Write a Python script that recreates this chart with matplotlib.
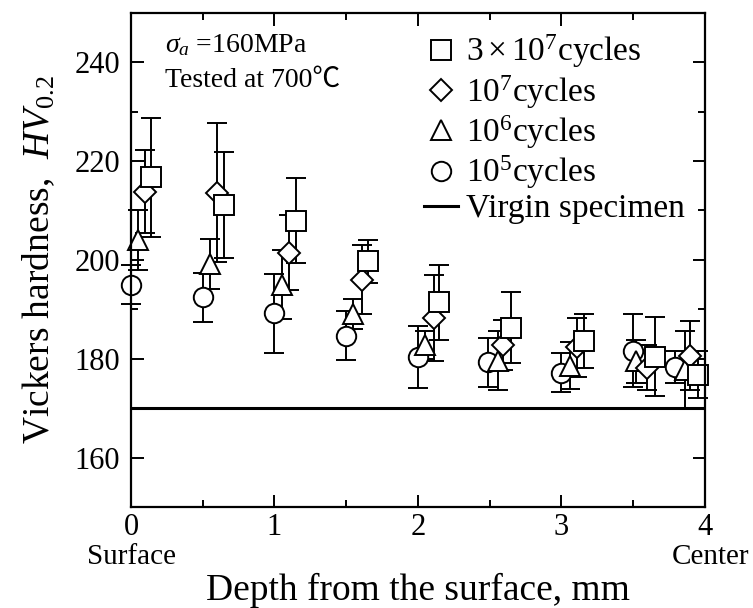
import matplotlib
matplotlib.use('Agg')
import matplotlib.pyplot as plt
from matplotlib.lines import Line2D

plt.rcParams['font.family'] = ['Liberation Serif', 'Noto Sans CJK JP', 'DejaVu Sans']
plt.rcParams['mathtext.fontset'] = 'custom'
plt.rcParams['mathtext.rm'] = 'Liberation Serif'
plt.rcParams['mathtext.it'] = 'Liberation Serif:italic'

# depth (mm), hardness HV0.2, error half-width
sq_x = [0.14, 0.65, 1.15, 1.65, 2.15, 2.65, 3.16, 3.65, 3.95]
sq_y = [216.7, 211.1, 207.9, 199.7, 191.4, 186.3, 183.6, 180.4, 176.8]
sq_e = [12.0, 10.7, 8.6, 4.4, 7.5, 7.2, 5.5, 8.0, 4.7]

dm_x = [0.10, 0.60, 1.10, 1.61, 2.11, 2.59, 3.11, 3.60, 3.90]
dm_y = [213.8, 213.6, 201.5, 196.0, 188.3, 182.8, 182.3, 178.2, 180.6]
dm_e = [8.4, 14.0, 7.5, 7.0, 8.7, 5.0, 6.0, 4.5, 7.0]

tr_x = [0.05, 0.55, 1.05, 1.55, 2.05, 2.56, 3.06, 3.52, 3.86]
tr_y = [204.0, 199.2, 195.0, 189.0, 182.8, 179.6, 178.6, 179.5, 177.8]
tr_e = [6.0, 5.0, 7.0, 3.0, 2.8, 6.0, 4.7, 4.4, 7.9]

ci_x = [0.0, 0.5, 1.0, 1.5, 2.0, 2.49, 3.0, 3.5, 3.79]
ci_y = [195.0, 192.4, 189.2, 184.7, 180.4, 179.3, 177.2, 181.6, 178.3]
ci_e = [4.0, 5.0, 8.0, 5.0, 6.3, 5.0, 4.0, 7.4, 3.3]

virgin_hv = 170
labels = [r'$3\times10^{7}$cycles', r'$10^{7}$cycles', r'$10^{6}$cycles',
          r'$10^{5}$cycles', 'Virgin specimen']

fig = plt.figure(figsize=(7.53, 6.08), dpi=100)
ax = fig.add_axes([0.174, 0.166, 0.762, 0.813])

ax.plot([0, 4], [virgin_hv, virgin_hv], color='black', lw=2.2, zorder=1)

style = dict(mfc='white', mec='black', ecolor='black', elinewidth=1.4,
             capsize=7, capthick=1.4, mew=1.4, ls='none')
for xs, ys, es, m, size in [(ci_x, ci_y, ci_e, 'o', 14), (tr_x, tr_y, tr_e, '^', 15),
                            (dm_x, dm_y, dm_e, 'D', 11.5), (sq_x, sq_y, sq_e, 's', 14)]:
    cont = ax.errorbar(xs, ys, yerr=es, fmt=m, ms=size, **style)
    for art in cont.get_children():
        art.set_clip_on(False)

ax.set_xlim(0, 4)
ax.set_ylim(150, 250)
ax.set_xticks([0, 1, 2, 3, 4])
ax.set_xticks([0.5, 1.5, 2.5, 3.5], minor=True)
ax.set_yticks([160, 180, 200, 220, 240])
ax.set_yticks([170, 190, 210, 230], minor=True)
ax.tick_params(which='both', direction='in', top=True, right=True, width=1.4)
ax.tick_params(which='major', length=9, labelsize=22)
ax.tick_params(axis='y', which='major', pad=8)
ax.tick_params(axis='x', which='major', pad=4)
ax.tick_params(which='minor', length=5)
for s in ax.spines.values():
    s.set_linewidth(1.6)

ax.set_xlabel('Depth from the surface, mm', fontsize=27)
ax.xaxis.set_label_coords(0.5, -0.133)
ax.set_ylabel(r'Vickers hardness,  $HV_{\mathit{0.2}}$', fontsize=27, labelpad=12)

ax.text(0, -0.1, 'Surface', transform=ax.transAxes, ha='center', va='center', fontsize=21)
ax.text(1.01, -0.1, 'Center', transform=ax.transAxes, ha='center', va='center', fontsize=21)

ax.text(0.24, 243.5, r'$\sigma_a$ =160MPa', fontsize=20, va='center')
ax.text(0.24, 236.3, 'Tested at 700℃', fontsize=20, va='center')

mk = dict(color='black', mfc='white', mew=1.4, ls='none')
handles = [Line2D([], [], marker='s', ms=14, **mk),
           Line2D([], [], marker='D', ms=11.5, **mk),
           Line2D([], [], marker='^', ms=15, **mk),
           Line2D([], [], marker='o', ms=14, **mk),
           Line2D([], [], color='black', lw=2.2)]
ax.legend(handles, labels, loc='upper right', bbox_to_anchor=(1.0, 1.0),
          frameon=False, fontsize=24, handlelength=1.0, handletextpad=0.25,
          labelspacing=0.08, borderaxespad=0.2)

fig.savefig('out.png', dpi=100)
